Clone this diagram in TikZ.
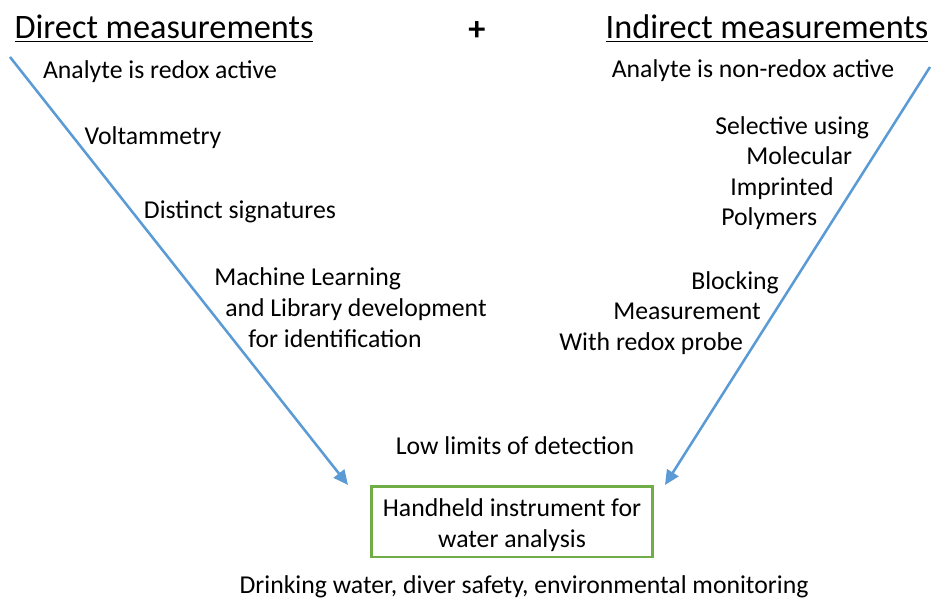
\documentclass[tikz,border=0pt]{standalone}
\usepackage{fontspec}
\setmainfont{Carlito}
\usetikzlibrary{arrows.meta}
\definecolor{lineblue}{RGB}{91,155,213}
\definecolor{boxgreen}{RGB}{112,173,71}

\tikzset{
  txt/.style={font=\fontsize{19.3}{23.25}\selectfont, inner sep=0pt, anchor=base},
  txtl/.style={txt, anchor=base west},
  head/.style={font=\fontsize{25.7}{30}\selectfont, inner sep=0pt, anchor=base},
  flow/.style={draw=lineblue, line width=1.9pt, -{Triangle[length=11pt,width=10pt]}},
  instr/.style={draw=boxgreen, line width=2pt, minimum width=211pt, minimum height=53pt,
    align=center, font=\fontsize{19.3}{23.25}\selectfont}
}

\begin{document}
\begin{tikzpicture}[x=0.75pt, y=-0.75pt]
  \useasboundingbox (0,0) rectangle (932,599);

    \node[head] (dm) at (164,39) {\underline{Direct measurements}};
    \node[head] (plus) at (477,41) {\textbf{+}};
    \node[head] (im) at (767,39) {\underline{Indirect measurements}};

    \node[txt] (redox) at (160,79) {Analyte is redox active};
    \node[txt] (volt) at (153,145) {Voltammetry};
    \node[txt] (sig) at (240,219) {Distinct signatures};
    \node[txtl] (ml1) at (214,285) {Machine Learning};
    \node[txtl] (ml2) at (225,316) {and Library development};
    \node[txtl] (ml3) at (248,347) {for identification};

    \node[txt] (nonredox) at (753,78) {Analyte is non-redox active};
    \node[txtl] (mip1) at (715,135) {Selective using};
    \node[txtl] (mip2) at (746,165) {Molecular};
    \node[txtl] (mip3) at (730,196) {Imprinted};
    \node[txtl] (mip4) at (721,226) {Polymers};
    \node[txtl] (blk1) at (691,289) {Blocking};
    \node[txtl] (blk2) at (613,319) {Measurement};
    \node[txtl] (blk3) at (559,350) {With redox probe};

    \node[txt] (lod) at (515,454) {Low limits of detection};
    \node[instr] (hh) at (512,521.5) {\rule{0pt}{19pt}Handheld instrument for\\water analysis};
    \node[txt] (use) at (524,593) {Drinking water, diver safety, environmental monitoring};

    \coordinate (ltop) at (10,57);
    \coordinate (lend) at (348,485);
    \coordinate (rtop) at (930,67);
    \coordinate (rend) at (665,485);

    \draw[flow] (ltop) -- (lend);
    \draw[flow] (rtop) -- (rend);
\end{tikzpicture}
\end{document}
